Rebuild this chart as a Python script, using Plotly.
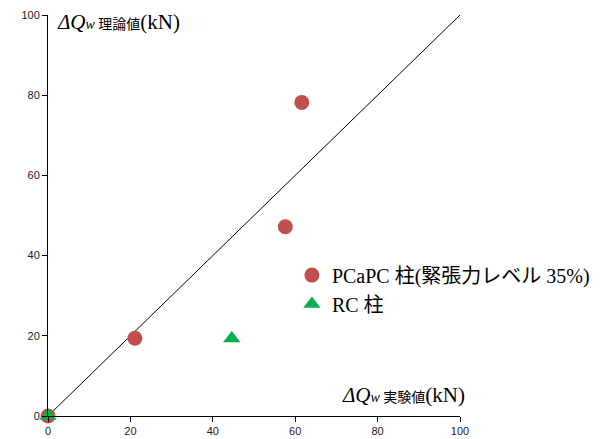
import plotly.graph_objects as go

# data
pcapc_x = [0, 21.1, 57.6, 61.6]
pcapc_y = [0, 19.4, 47.2, 78.2]
rc_x = [0, 44.6]
rc_y = [0, 19.3]
line_x = [0, 100]
line_y = [0, 100]
ticks = [0, 20, 40, 60, 80, 100]

serif = "Liberation Serif, Noto Sans CJK JP, serif"
sans = "Liberation Sans, Arial, sans-serif"

fig = go.Figure()
fig.add_trace(go.Scatter(x=line_x, y=line_y, mode="lines",
                         line=dict(color="black", width=1), showlegend=False,
                         hoverinfo="skip"))
fig.add_trace(go.Scatter(x=pcapc_x, y=pcapc_y, mode="markers",
                         name="PCaPC 柱(緊張力レベル 35%)",
                         marker=dict(symbol="circle", size=15, color="#c0504d"),
                         cliponaxis=False))
fig.add_trace(go.Scatter(x=rc_x, y=rc_y, mode="markers", name="RC 柱",
                         marker=dict(symbol="triangle-up", size=15, color="#00b050"),
                         cliponaxis=False))

axis_common = dict(range=[0, 100], tickvals=ticks, showgrid=False, zeroline=False,
                   showline=True, linecolor="black", linewidth=1,
                   ticks="outside", ticklen=5, tickcolor="black", automargin=False,
                   tickfont=dict(family=sans, size=11, color="#222"))
fig.update_xaxes(**axis_common)
fig.update_yaxes(**axis_common)

fig.update_layout(
    width=594, height=431,
    margin=dict(l=40, r=142, t=7, b=23, autoexpand=False),
    plot_bgcolor="white", paper_bgcolor="white",
    legend=dict(x=0.592, y=0.40, xanchor="left", yanchor="top",
                font=dict(family=serif, size=20, color="black"),
                bgcolor="rgba(0,0,0,0)", itemsizing="trace",
                tracegroupgap=0),
    annotations=[
        dict(xref="paper", yref="paper", x=0.017, y=0.983, xanchor="left", yanchor="middle",
             showarrow=False,
             text="<i>ΔQ</i><span style='font-size:14px'><i>w</i> 理論値</span>(kN)",
             font=dict(family=serif, size=21, color="black")),
        dict(xref="paper", yref="paper", x=1.017, y=0.052, xanchor="right", yanchor="middle",
             showarrow=False,
             text="<i>ΔQ</i><span style='font-size:14px'><i>w</i> 実験値</span>(kN)",
             font=dict(family=serif, size=21, color="black")),
    ],
)

fig.write_html("out.html")
